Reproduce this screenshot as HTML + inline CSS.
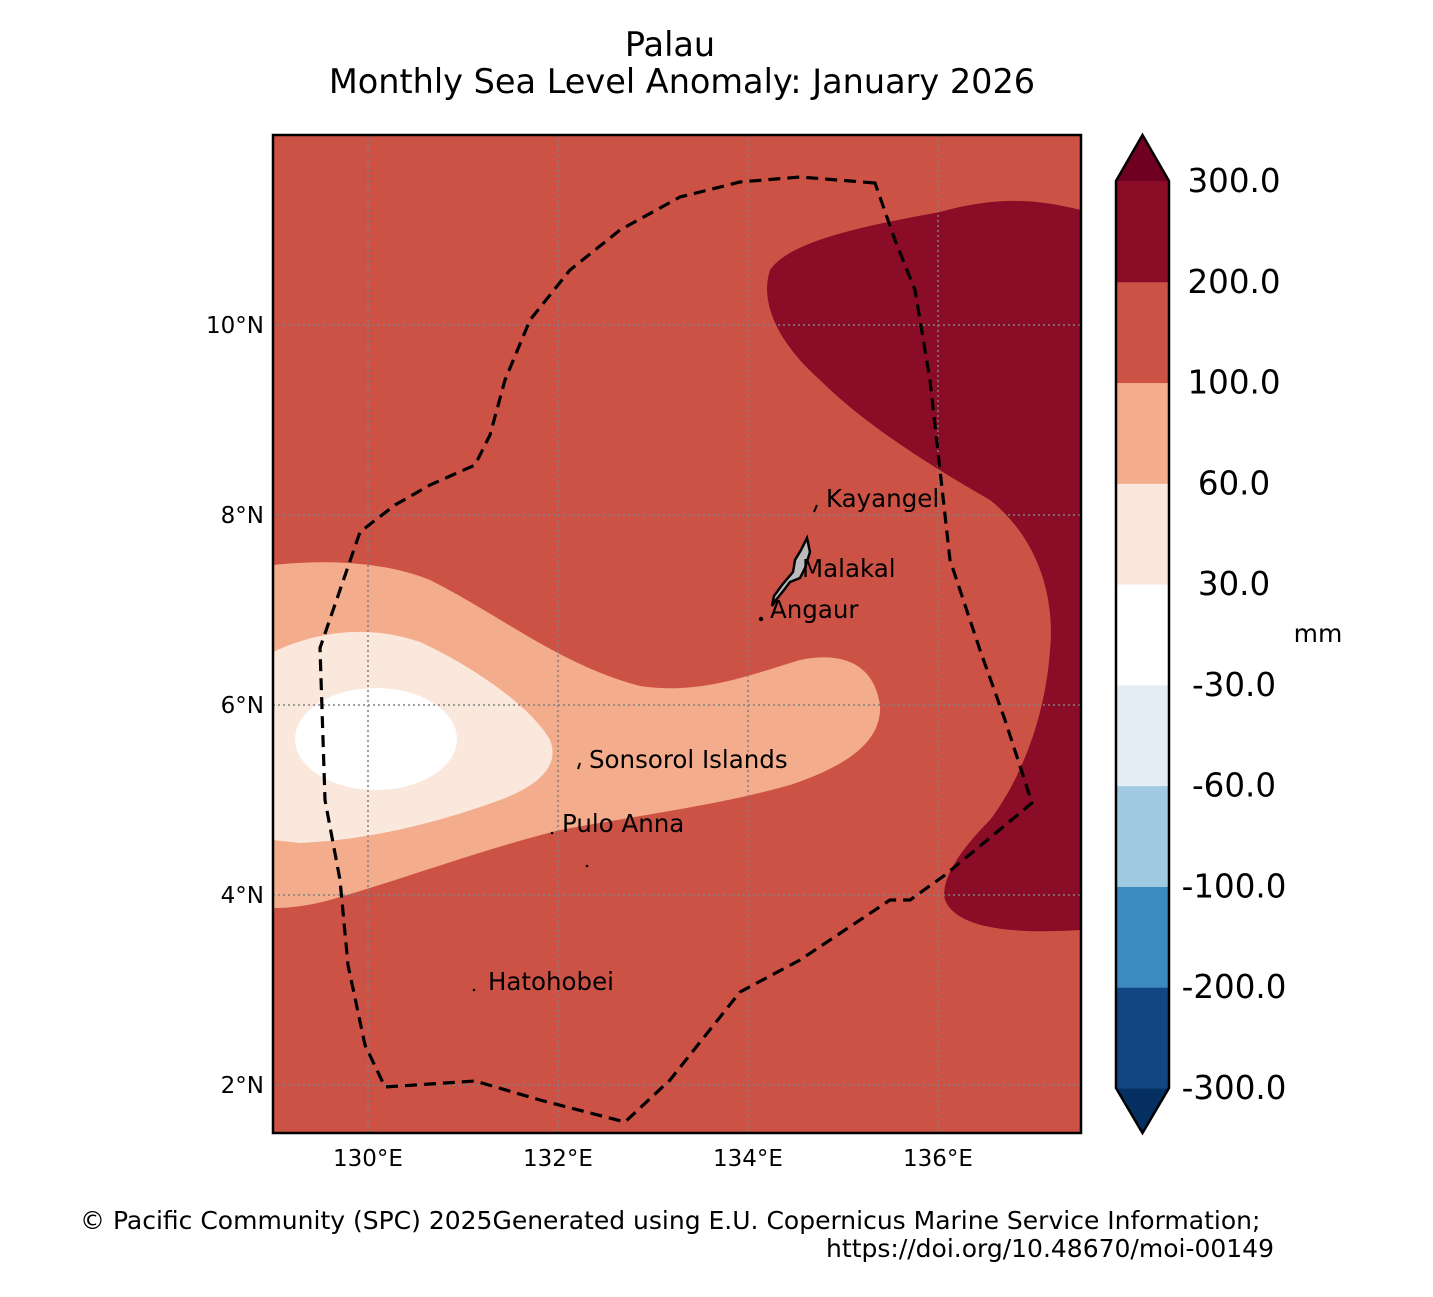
<!DOCTYPE html>
<html><head><meta charset="utf-8"><style>
body{margin:0;background:#fff;}
svg text{font-family:"DejaVu Sans","Liberation Sans",sans-serif;}
</style></head><body>
<svg id="s" width="1433" height="1292" xmlns="http://www.w3.org/2000/svg">
<text x="670" y="56" font-size="33.5" text-anchor="middle">Palau</text>
<text x="682" y="93" font-size="33.5" text-anchor="middle">Monthly Sea Level Anomaly: January 2026</text>
<defs><clipPath id="mc"><rect x="273" y="135" width="808" height="998"/></clipPath></defs>
<g clip-path="url(#mc)">
<rect x="273" y="135" width="808" height="998" fill="#cd5246"/>
<path fill="#8a0c26" d="M1081,210 C1040,200 1000,195 940,212 C870,225 790,240 770,270 C760,300 775,340 820,380 C860,420 920,460 990,500 C1040,540 1055,600 1050,650 C1045,720 1020,780 990,820 C960,850 940,880 945,900 C955,925 1000,935 1081,930 Z"/>
<path fill="#f4ad8c" d="M273,565 C320,560 380,560 430,580 C500,615 560,665 640,686 C700,695 750,675 800,660 C850,650 875,670 880,705 C882,740 850,765 790,785 C720,805 640,815 560,830 C480,850 400,880 330,900 C300,908 280,908 273,908 Z"/>
<path fill="#fae8dd" d="M273,652 C320,630 370,625 420,642 C470,665 530,705 550,740 C560,765 540,785 500,800 C440,822 370,840 300,843 L273,840 Z"/>
<ellipse cx="376" cy="739" rx="81" ry="51" fill="#ffffff"/>
<g id="grid"></g>
<path fill="none" stroke="#000" stroke-width="3.2" stroke-dasharray="12,7" d="M875,183 L800,177 L740,182 L680,197 L620,230 L570,270 L530,320 L505,380 L490,435 L475,465 L430,485 L395,505 L360,532 L320,648 L325,800 L340,880 L348,965 L365,1045 L385,1087 L475,1081 L540,1100 L625,1122 L670,1080 L740,992 L800,960 L890,900 L910,900 L945,875 L1032,803 L1005,720 L980,650 L950,560 L940,470 L930,380 L915,290 L895,240 Z"/>
<path fill="#bbb" stroke="#000" stroke-width="2.5" d="M807,538 L810,552 L805,568 L800,578 L790,582 L784,590 L776,600 L772,606 L774,596 L782,585 L793,572 L795,560 L801,550 Z"/>
<circle cx="761" cy="619" r="2.2" fill="#000"/>
<path d="M814,512 L817,505" stroke="#000" stroke-width="2"/>
<path d="M578,769 L580,763" stroke="#000" stroke-width="2"/>
<circle cx="552" cy="833" r="1.3" fill="#000"/>
<circle cx="587" cy="866" r="1.3" fill="#000"/>
<circle cx="474" cy="990" r="1.3" fill="#000"/>
<text x="826" y="507" font-size="24.5">Kayangel</text>
<text x="802" y="577" font-size="24.5">Malakal</text>
<text x="770" y="618" font-size="24.5">Angaur</text>
<text x="589" y="768" font-size="24.5">Sonsorol Islands</text>
<text x="562" y="832" font-size="24.5">Pulo Anna</text>
<text x="488" y="990" font-size="24.5">Hatohobei</text>
</g>
<rect x="273" y="135" width="808" height="998" fill="none" stroke="#000" stroke-width="2.5"/>
<g id="ticks"></g>
<g id="cbar"></g>
<text x="1318" y="642" font-size="25" text-anchor="middle">mm</text>
<text x="80" y="1229" font-size="25">© Pacific Community (SPC) 2025Generated using E.U. Copernicus Marine Service Information;</text>
<text x="1274" y="1257" font-size="25" text-anchor="end">https://doi.org/10.48670/moi-00149</text>
</svg>
<script>
const lonTicks=[130,132,134,136];
const latTicks=[10,8,6,4,2];
const levels=[-300,-200,-100,-60,-30,30,60,100,200,300];
const levelLabels=["-300.0","-200.0","-100.0","-60.0","-30.0","30.0","60.0","100.0","200.0","300.0"];
const colors=["#114782","#3c8abf","#9fcae1","#e4edf5","#ffffff","#fae8dd","#f4ad8c","#cd5246","#8a0c26"];
(function(){
const NS="http://www.w3.org/2000/svg";
const x=lon=>273+(lon-129)*95, y=lat=>135+(12-lat)*95;
function mk(t,a,p){const e=document.createElementNS(NS,t);for(const k in a)e.setAttribute(k,a[k]);p.appendChild(e);return e;}
const grid=document.getElementById('grid'),ticks=document.getElementById('ticks');
lonTicks.forEach(l=>{
 const g=mk('line',{x1:x(l),x2:x(l),y1:135,y2:1133,stroke:'#808080','stroke-width':1.5,'stroke-dasharray':'2,3'},grid);
 
 
 const t=mk('text',{x:x(l),y:1166,'font-size':23,'text-anchor':'middle'},ticks);t.textContent=l+'°E';
 
 
});
latTicks.forEach(l=>{
 const g=mk('line',{x1:273,x2:1081,y1:y(l),y2:y(l),stroke:'#808080','stroke-width':1.5,'stroke-dasharray':'2,3'},grid);
 
 
 const t=mk('text',{x:264,y:y(l)+8,'font-size':23,'text-anchor':'end'},ticks);t.textContent=l+'°N';
 
 
});
const cb=document.getElementById('cbar');
const cx0=1116,cw=53,cbTop=181,cbBot=1088,n=levels.length-1,h=(cbBot-cbTop)/n;
const cy=i=>cbBot-i*h;
const tt=mk('polygon',{points:`${cx0},${cbTop} ${cx0+cw/2},135 ${cx0+cw},${cbTop}`,fill:'#6f0021'},cb);


const tb=mk('polygon',{points:`${cx0},${cbBot} ${cx0+cw/2},1133 ${cx0+cw},${cbBot}`,fill:'#053061'},cb);


for(let i=0;i<n;i++){
 const r=mk('rect',{x:cx0,y:cy(i+1),width:cw,height:h+0.5,fill:colors[i]},cb);
 
 
}
const o=mk('polygon',{points:`${cx0},${cbTop} ${cx0+cw/2},135 ${cx0+cw},${cbTop} ${cx0+cw},${cbBot} ${cx0+cw/2},1133 ${cx0},${cbBot}`,fill:'none',stroke:'#000','stroke-width':2.5},cb);


levels.forEach((v,i)=>{
 const t=mk('text',{x:1234,y:cy(i)+11,'font-size':32.5,'text-anchor':'middle'},cb);t.textContent=levelLabels[i];
 
 
});
})();
</script>
</body></html>
